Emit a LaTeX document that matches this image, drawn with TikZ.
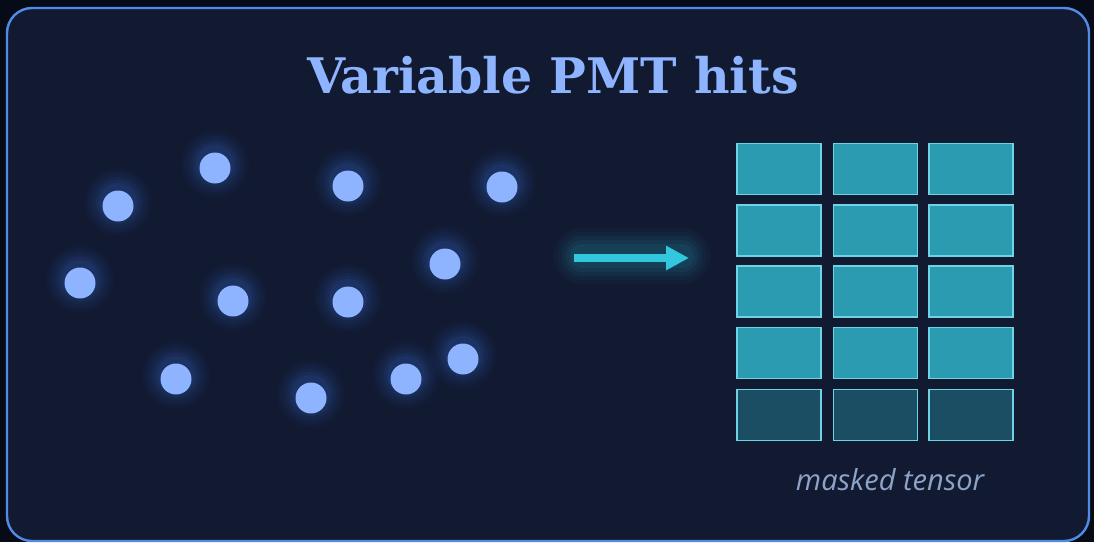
\documentclass[tikz,border=0pt]{standalone}
\usepackage{fontspec}
\usetikzlibrary{arrows.meta}
\newfontfamily\titlefont{DejaVu Serif}
\newfontfamily\labelfont{Open Sans}
\definecolor{outerbg}{HTML}{070B18}
\definecolor{panelbg}{HTML}{111A31}
\definecolor{panelborder}{HTML}{528BE6}
\definecolor{dotcol}{HTML}{8FB4FF}
\definecolor{glowcol}{HTML}{3A6FD8}
\definecolor{arrowcol}{HTML}{31C8DF}
\definecolor{cellfill}{HTML}{2A9BB0}
\definecolor{maskfill}{HTML}{1B4D63}
\definecolor{cellborder}{HTML}{6FD3E6}
\definecolor{labelcol}{HTML}{8FA3C8}
\tikzset{
  hit/.style={circle, fill=dotcol, draw=none, minimum size=31pt, inner sep=0pt},
  cell/.style={rectangle, fill=cellfill, draw=cellborder, line width=1.2pt, minimum width=84pt, minimum height=51pt, inner sep=0pt},
  maskcell/.style={cell, fill=maskfill},
  flow/.style={draw=arrowcol, line width=8pt, -{Triangle[length=23pt,width=23pt]}},
}
\begin{document}
\begin{tikzpicture}[x=1pt,y=-1pt]
\useasboundingbox (0,0) rectangle (1094,542);
\fill[outerbg] (0,0) rectangle (1094,542);
\fill[panelbg, draw=panelborder, line width=2.4pt, rounded corners=25pt] (7,8) rectangle (1089,541);
\node[text=dotcol, font=\titlefont\bfseries\fontsize{49}{52}\selectfont] (title) at (553,75) {Variable PMT hits};
% glows
\foreach \x/\y in {215/168,118/206,348/186,502/187,80/283,233/301,348/302,445/264,176/379,311/398,406/379,463/359}{
  \foreach \r/\o in {34/0.03,31/0.04,28/0.05,25/0.06,22/0.08,19/0.10}{
    \fill[glowcol, opacity=\o] (\x,\y-4) circle (\r);
  }
}
\node[hit] (h1) at (215,168) {};
\node[hit] (h2) at (118,206) {};
\node[hit] (h3) at (348,186) {};
\node[hit] (h4) at (502,187) {};
\node[hit] (h5) at (80,283) {};
\node[hit] (h6) at (233,301) {};
\node[hit] (h7) at (348,302) {};
\node[hit] (h8) at (445,264) {};
\node[hit] (h9) at (176,379) {};
\node[hit] (h10) at (311,398) {};
\node[hit] (h11) at (406,379) {};
\node[hit] (h12) at (463,359) {};
% arrow glow
\foreach \w/\o in {56/0.03,48/0.04,40/0.05,32/0.06,24/0.07}{
  \fill[arrowcol, opacity=\o, rounded corners=\w/2] (582-\w/2,256-\w/2) rectangle (682+\w/2,256+\w/2);
}
\coordinate (a0) at (574,258);
\coordinate (a1) at (689,258);
\draw[flow] (a0) -- (a1);
% grid
\foreach \c/\cx in {1/779,2/875.5,3/971}{
  \foreach \r/\ry in {1/169,2/230.5,3/291.5,4/353}{
    \node[cell] (c\r\c) at (\cx,\ry) {};
  }
  \node[maskcell] (c5\c) at (\cx,415) {};
}
\node[text=labelcol, font=\labelfont\itshape\fontsize{29}{32}\selectfont] (lbl) at (890,480) {masked tensor};
\end{tikzpicture}
\end{document}
